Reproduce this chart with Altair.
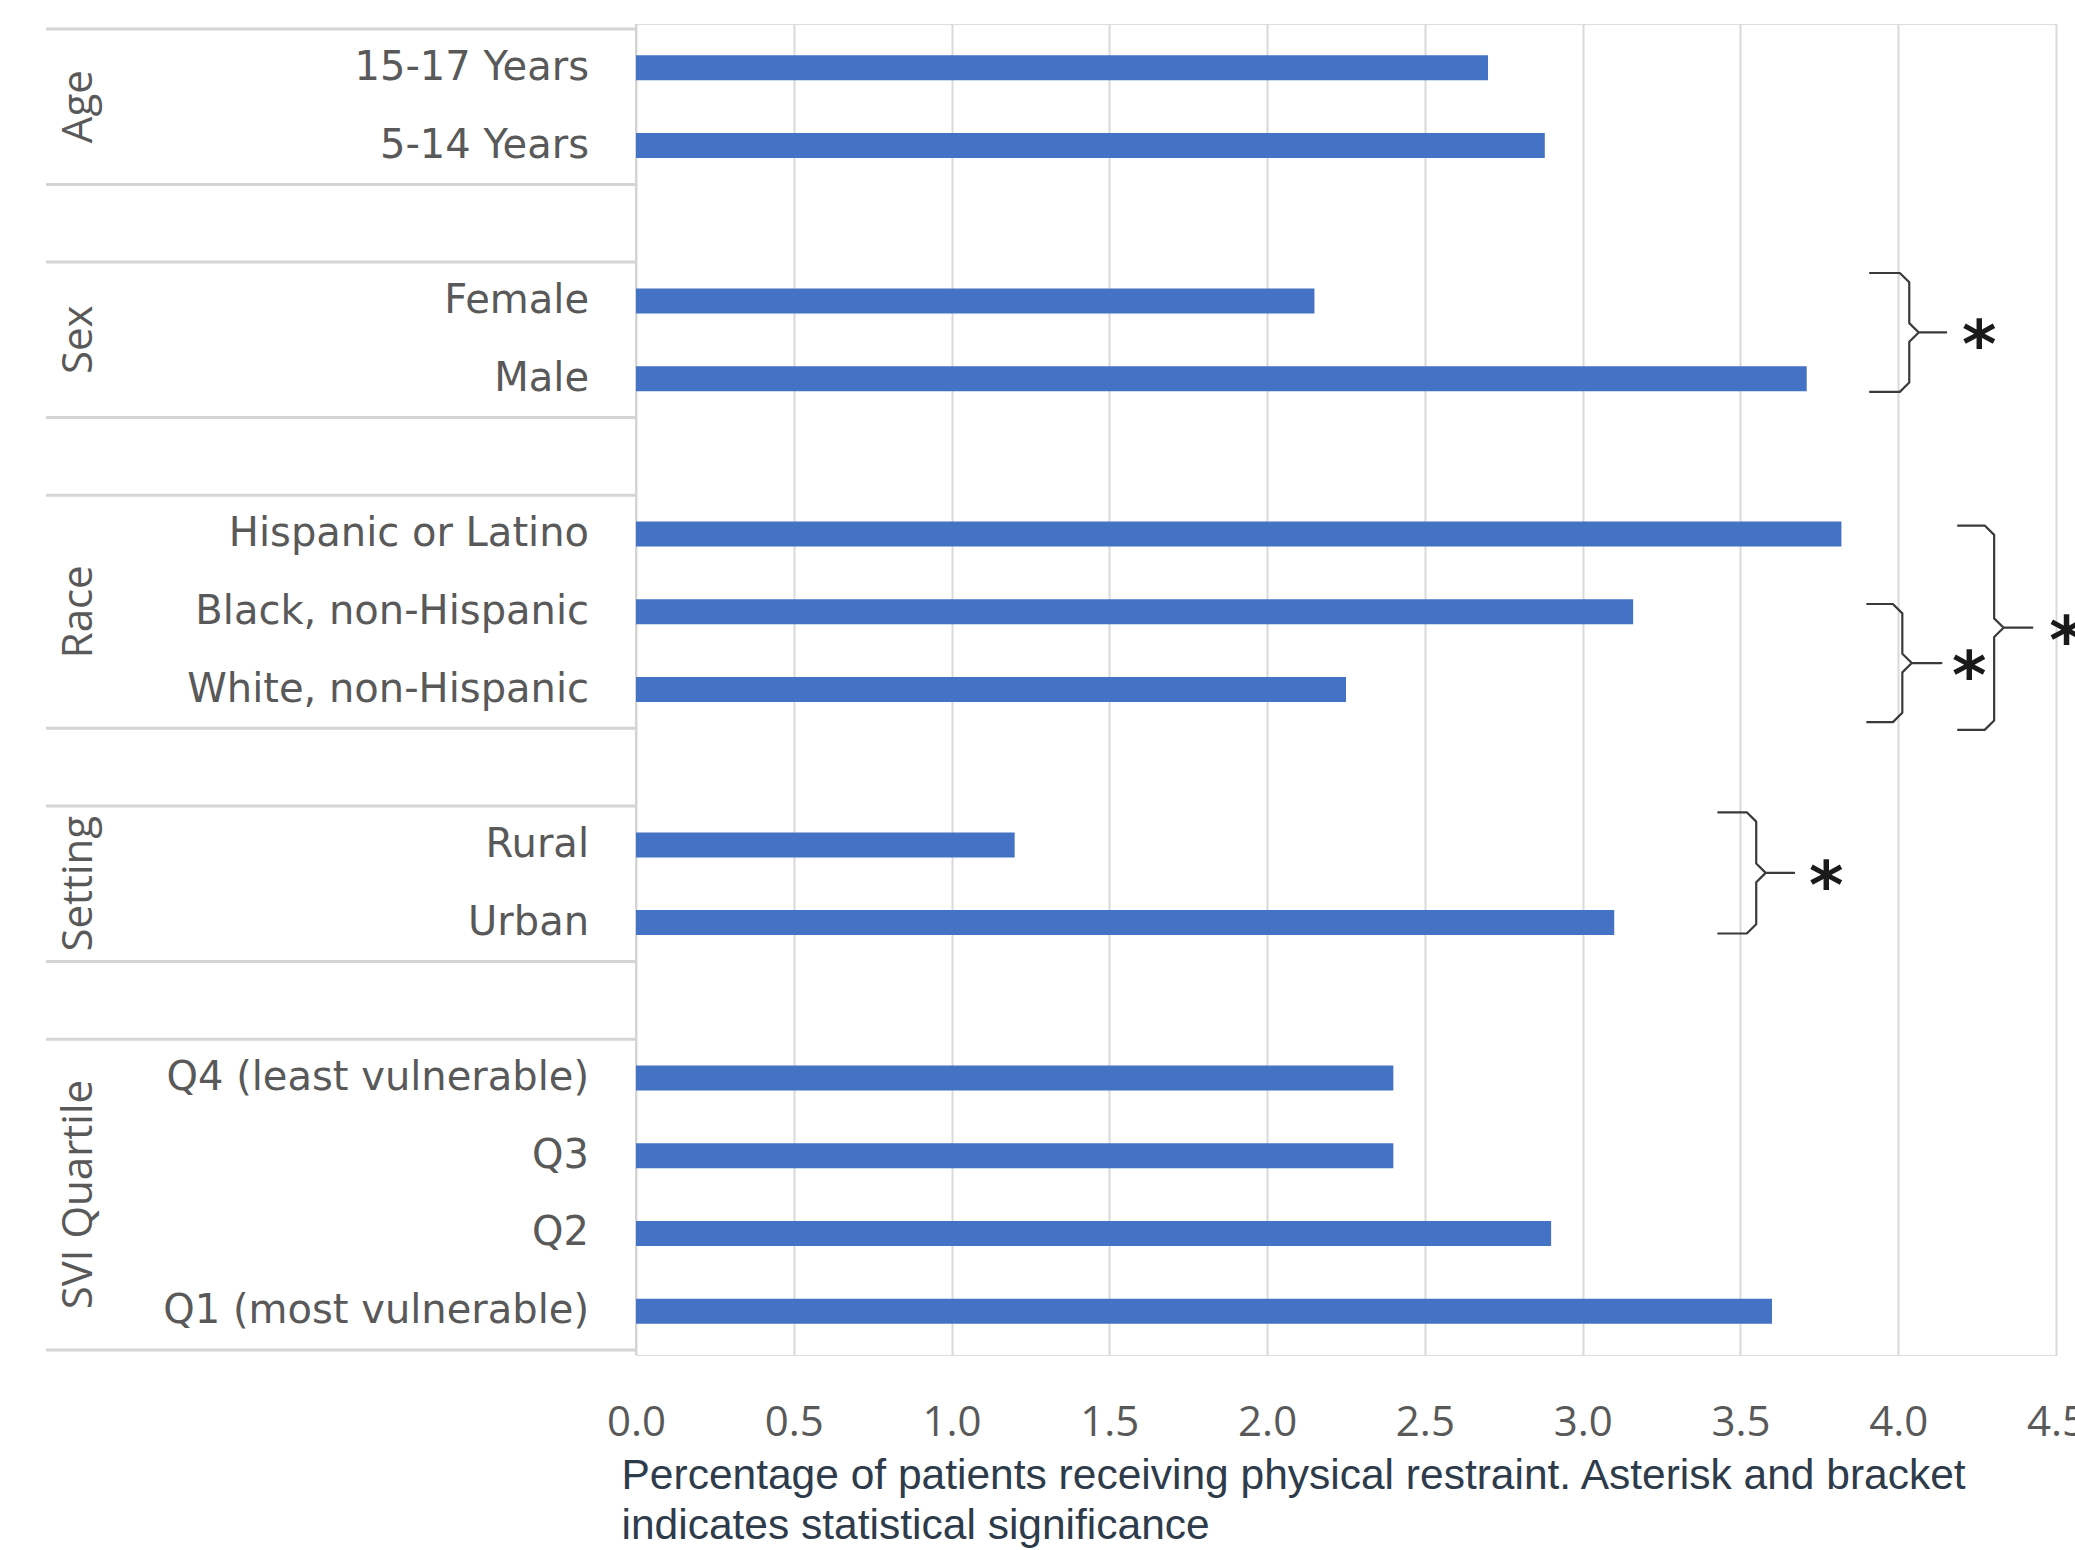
import altair as alt
import pandas as pd

# ---------------- data ----------------
groups = ["Age", "Sex", "Race", "Setting", "SVI Quartile"]

age_labels = ["15-17 Years", "5-14 Years"]
age_values = [2.70, 2.88]

sex_labels = ["Female", "Male"]
sex_values = [2.15, 3.71]

race_labels = ["Hispanic or Latino", "Black, non-Hispanic", "White, non-Hispanic"]
race_values = [3.82, 3.16, 2.25]

setting_labels = ["Rural", "Urban"]
setting_values = [1.20, 3.10]

svi_labels = ["Q4 (least vulnerable)", "Q3", "Q2", "Q1 (most vulnerable)"]
svi_values = [2.40, 2.40, 2.90, 3.60]

tick_values = [0.0, 0.5, 1.0, 1.5, 2.0, 2.5, 3.0, 3.5, 4.0, 4.5]

caption = ["Percentage of patients receiving physical restraint. Asterisk and bracket",
           "indicates statistical significance"]

# significance brackets (row units for y, percent units for x)
bracket_top = [3.14, 7.40, 6.39, 10.08]
bracket_bottom = [4.67, 8.92, 9.02, 11.64]
bracket_arm = [3.908, 3.899, 4.187, 3.427]
bracket_spine = [4.035, 4.013, 4.304, 3.550]
bracket_tip = [4.152, 4.137, 4.425, 3.670]
bracket_star = [4.257, 4.225, 4.533, 3.772]

# ---------------- build tables ----------------
all_labels = [age_labels, sex_labels, race_labels, setting_labels, svi_labels]
all_values = [age_values, sex_values, race_values, setting_values, svi_values]

records, spans, bounds_pos = [], [], []
row = 0
for g, labs, vals in zip(groups, all_labels, all_values):
    start = row
    for l, v in zip(labs, vals):
        records.append({"group": g, "label": l, "value": v, "row": row + 0.5})
        row += 1
    spans.append({"group": g, "mid": (start + row) / 2})
    bounds_pos += [start, row]
    row += 1  # spacer row between groups
total_rows = row - 1

bars_df = pd.DataFrame(records)
span_df = pd.DataFrame(spans)
bound_df = pd.DataFrame({"pos": bounds_pos})

CX, CY = 0.03, 0.12  # corner rounding of the brace drawing
brace_pts, star_pts = [], []
for i in range(len(bracket_top)):
    t, b = bracket_top[i], bracket_bottom[i]
    a, s, tp = bracket_arm[i], bracket_spine[i], bracket_tip[i]
    m = (t + b) / 2
    path = [(a, t), (s - CX, t), (s, t + CY), (s, m - CY), (s + CX, m), (tp, m),
            (s + CX, m), (s, m + CY), (s, b - CY), (s - CX, b), (a, b)]
    for k, (px, py) in enumerate(path):
        brace_pts.append({"bid": i, "order": k, "x": px, "y": py})
    star_pts.append({"x": bracket_star[i], "y": m})
brace_df = pd.DataFrame(brace_pts)
star_df = pd.DataFrame(star_pts)

# ---------------- layout ----------------
H = 1331
W = 1420
PAD_L, PAD_T = 636, 24
LABEL_PANEL = 590
GRAY_LINE = "#D4D4D4"
TEXT_GRAY = "#595959"

yscale = alt.Scale(domain=[0, total_rows], reverse=True, nice=False, zero=False)
xscale = alt.Scale(domain=[0, 4.5], nice=False)

# left label panel (drawn left of the plot area)
rules = alt.Chart(bound_df).mark_rule(color=GRAY_LINE, strokeWidth=3).encode(
    y=alt.Y("pos:Q", scale=yscale, axis=None),
    x=alt.value(-LABEL_PANEL), x2=alt.value(0))
vline = alt.Chart(pd.DataFrame({"a": [0]})).mark_rule(color=GRAY_LINE, strokeWidth=2).encode(
    x=alt.value(0), y=alt.value(0), y2=alt.value(H))
cat_text = alt.Chart(bars_df).mark_text(
    align="right", baseline="middle", font="DejaVu Sans", fontSize=40, color=TEXT_GRAY
).encode(y=alt.Y("row:Q", scale=yscale, axis=None), x=alt.value(-47), text="label:N")
grp_text = alt.Chart(span_df).mark_text(
    angle=270, align="center", baseline="middle", font="Open Sans", fontSize=42, color=TEXT_GRAY
).encode(y=alt.Y("mid:Q", scale=yscale, axis=None), x=alt.value(-557), text="group:N")

# bars and axis
xaxis = alt.Axis(values=tick_values, format=".1f", grid=True, gridColor="#D9D9D9", gridWidth=2,
                 domain=False, ticks=False, labelFont="Open Sans", labelFontSize=42,
                 labelColor=TEXT_GRAY, labelPadding=47, labelFlush=False, labelOverlap=False,
                 title=caption, titleFont="Liberation Sans", titleFontSize=42.5,
                 titleFontWeight="normal", titleColor="#2E3B4A", titleX=-15, titleY=133,
                 titleAlign="left", titleAnchor="start", titleBaseline="alphabetic",
                 titleLineHeight=50)

bars = alt.Chart(bars_df).mark_bar(orient="horizontal", size=25, color="#4472C4").encode(
    x=alt.X("value:Q", scale=xscale, axis=xaxis, title=caption),
    y=alt.Y("row:Q", scale=yscale, axis=None))
braces = alt.Chart(brace_df).mark_line(color="#3A3A3A", strokeWidth=2.2, strokeJoin="round").encode(
    x=alt.X("x:Q", scale=xscale), y=alt.Y("y:Q", scale=yscale, axis=None),
    detail="bid:N", order="order:Q")
stars = alt.Chart(star_df).mark_text(
    text="*", font="DejaVu Sans", fontWeight="bold", fontSize=66, dy=15,
    baseline="middle", align="center", color="#1A1A1A"
).encode(x=alt.X("x:Q", scale=xscale), y=alt.Y("y:Q", scale=yscale, axis=None))

chart = alt.layer(rules, vline, cat_text, grp_text, bars, braces, stars).properties(
    width=W, height=H,
    autosize=alt.AutoSizeParams(type="none"),
    padding={"left": PAD_L, "top": PAD_T, "right": 2075 - PAD_L - W, "bottom": 1550 - PAD_T - H},
).configure_view(stroke=None).configure(background="white")

chart.save("out.html", embed_options={"renderer": "svg", "actions": False})
